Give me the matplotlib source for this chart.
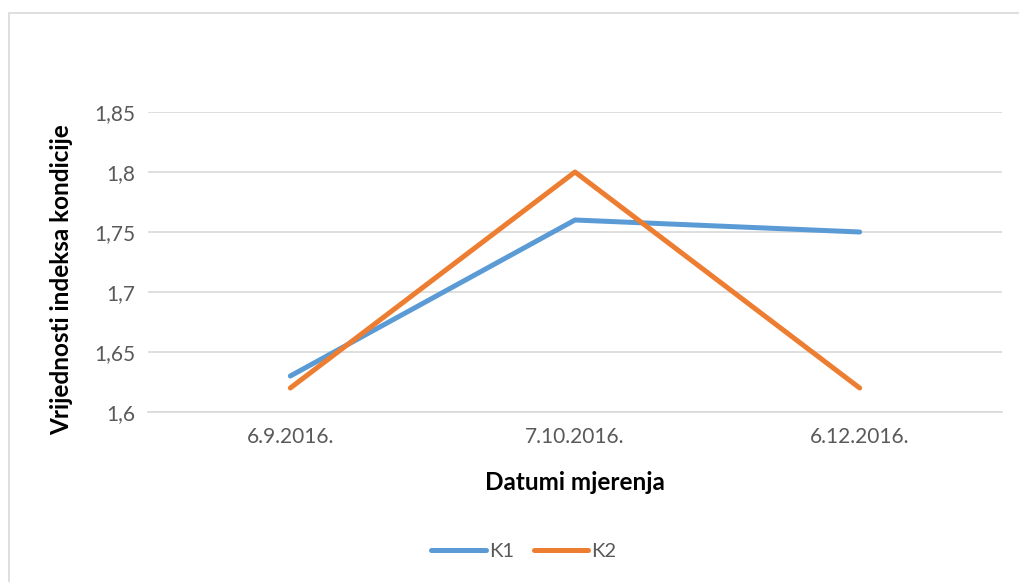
import matplotlib.pyplot as plt
from matplotlib.patches import Rectangle
from matplotlib.lines import Line2D

plt.rcParams['font.family'] = ['Lato', 'DejaVu Sans']

dates = ["6.9.2016.", "7.10.2016.", "6.12.2016."]
k1 = [1.63, 1.76, 1.75]
k2 = [1.62, 1.80, 1.62]
yticks = [1.6, 1.65, 1.7, 1.75, 1.8, 1.85]
ytick_labels = ["1,6", "1,65", "1,7", "1,75", "1,8", "1,85"]

W, H = 1020, 582
fig = plt.figure(figsize=(W / 100, H / 100), dpi=100)

# outer chart frame (cut off at right/bottom like the screenshot)
fig.patches.append(Rectangle((9 / W, -0.1), 1.2, (H - 13) / H + 0.1,
                             transform=fig.transFigure, fill=False,
                             edgecolor='#d9d9d9', linewidth=1.2))

ax = fig.add_axes([148 / W, 1 - 412 / H, (1002 - 148) / W, (412 - 112) / H])
x = range(len(dates))
ax.plot(x, k1, color='#5b9bd5', linewidth=3.6, solid_capstyle='round', label='K1', zorder=3)
ax.plot(x, k2, color='#ed7d31', linewidth=3.6, solid_capstyle='round', label='K2', zorder=4)

ax.set_xlim(-0.5, 2.5)
ax.set_ylim(1.6, 1.85)
ax.set_xticks(list(x))
ax.set_xticklabels(dates)
ax.set_yticks(yticks)
ax.set_yticklabels(ytick_labels)
ax.tick_params(length=0, labelsize=15, colors='#595959', pad=9)
ax.tick_params(axis='x', pad=11)
ax.yaxis.grid(True, color='#d9d9d9', linewidth=1.2)
ax.set_axisbelow(True)
for s in ['top', 'right', 'left']:
    ax.spines[s].set_visible(False)
ax.spines['bottom'].set_color('#d9d9d9')
ax.spines['bottom'].set_linewidth(1.2)

fig.text(62 / W, 1 - 280 / H, "Vrijednosti indeksa kondicije", rotation=90,
         ha='center', va='center', fontsize=17.5, fontweight='bold')
fig.text(575 / W, 1 - 482 / H, "Datumi mjerenja", ha='center', va='center',
         fontsize=17.5, fontweight='bold')

handles = [Line2D([], [], color='#5b9bd5', linewidth=3.6, solid_capstyle='round'),
           Line2D([], [], color='#ed7d31', linewidth=3.6, solid_capstyle='round')]
fig.legend(handles, ['K1', 'K2'], loc='center', bbox_to_anchor=(524 / W, 1 - 551 / H),
           ncol=2, frameon=False, fontsize=14.5, labelcolor='#595959',
           handlelength=2.7, handletextpad=0.15, columnspacing=1.0)

fig.savefig('out.png', dpi=100)
